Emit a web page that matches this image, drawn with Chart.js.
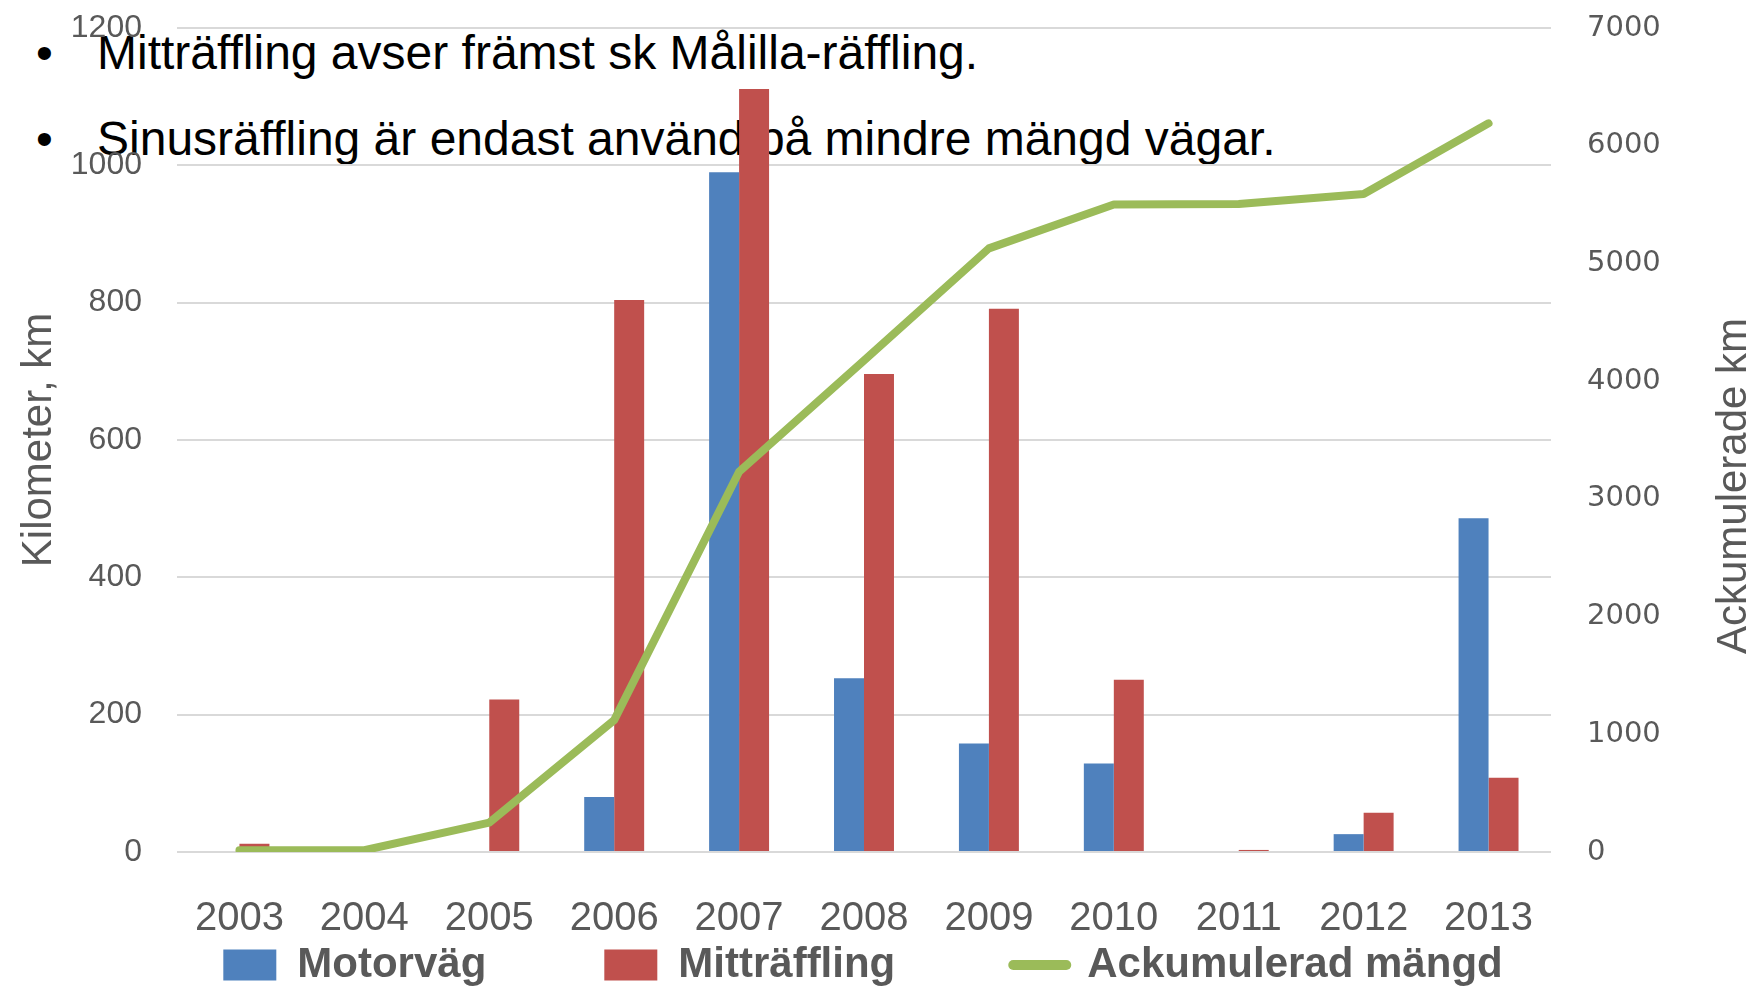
<!DOCTYPE html>
<html>
<head>
<meta charset="utf-8">
<script src="https://cdn.jsdelivr.net/npm/chart.js@4/dist/chart.umd.min.js"></script>
<style>
  body { margin: 0; background: #fff; }
  #wrap { position: relative; width: 1756px; height: 988px; }
  .note { position: absolute; font-family: "Liberation Sans", Arial, sans-serif; font-size: 48px; line-height: 48px; color: #000; white-space: nowrap; }
  canvas { position: absolute; left: 0; top: 0; }
</style>
</head>
<body>
<div id="wrap">
  <div class="note" style="left:36px;top:29px">•</div>
  <div class="note" style="left:97px;top:29px">Mitträffling avser främst sk Målilla-räffling.</div>
  <div class="note" style="left:36px;top:115px">•</div>
  <div class="note" style="left:97px;top:115px">Sinusräffling är endast använd på mindre mängd vägar.</div>
  <canvas id="chart" width="1756" height="988"></canvas>
</div>
<script>
// data
const years = ['2003', '2004', '2005', '2006', '2007', '2008', '2009', '2010', '2011', '2012', '2013'];
const motorvag = [0, 0, 0, 80, 990, 253, 158, 129, 0, 26, 486];
const mittraffling = [12, 0, 222, 804, 1111, 696, 791, 251, 3, 57, 108];
const ackumulerad = [15, 15, 250, 1120, 3230, 4175, 5128, 5500, 5505, 5590, 6190];

const leftTitle = 'Kilometer, km';
const rightTitle = 'Ackumulerade km';

const grey = '#595959';

// Chart.js puts a right-axis title top-to-bottom, the picture has it bottom-to-top
const rightTitlePlugin = {
  id: 'rightTitle',
  afterDraw(chart) {
    const ctx = chart.ctx;
    const s = chart.scales.y2;
    ctx.save();
    ctx.translate(s.right - 22, 486);
    ctx.rotate(-Math.PI / 2);
    ctx.font = '42px "Liberation Sans"';
    ctx.fillStyle = grey;
    ctx.textAlign = 'center';
    ctx.textBaseline = 'middle';
    ctx.fillText(rightTitle, 0, 0);
    ctx.restore();
  }
};

// wide gaps between legend items, but keep the legend low
const legendPlace = {
  id: 'legendPlace',
  afterLayout(chart) {
    const lg = chart.legend;
    const pad = lg.options.labels.padding;
    lg.top = 944 - pad;
    lg.left -= 15;
    lg.right -= 15;
  }
};

const plain = v => String(v);

// fixed axis width, and no extra room above/below for the tick labels
const fixWidth = w => scale => {
  scale.width = w;
  scale.paddingTop = 0;
  scale.paddingBottom = 0;
};

new Chart(document.getElementById('chart'), {
  type: 'bar',
  data: {
    labels: years,
    datasets: [
      {
        label: 'Motorväg',
        data: motorvag,
        backgroundColor: '#4F81BD',
        borderWidth: 0,
        yAxisID: 'y',
        order: 1
      },
      {
        label: 'Mitträffling',
        data: mittraffling,
        backgroundColor: '#C0504D',
        borderWidth: 0,
        yAxisID: 'y',
        order: 1
      },
      {
        type: 'line',
        label: 'Ackumulerad mängd',
        data: ackumulerad,
        borderColor: '#9BBB59',
        backgroundColor: '#9BBB59',
        borderWidth: 8,
        borderJoinStyle: 'round',
        borderCapStyle: 'round',
        pointRadius: 0,
        tension: 0,
        yAxisID: 'y2',
        order: 0
      }
    ]
  },
  options: {
    responsive: false,
    animation: false,
    devicePixelRatio: 1,
    layout: { padding: { top: 28, left: 0, right: 0, bottom: 0 } },
    datasets: {
      bar: { categoryPercentage: 0.48, barPercentage: 1 }
    },
    plugins: {
      tooltip: { enabled: false },
      legend: {
        position: 'bottom',
        maxHeight: 56,
        labels: {
          padding: 118,
          usePointStyle: true,
          pointStyleWidth: 53,
          boxHeight: 31,
          color: grey,
          font: { family: '"Liberation Sans"', size: 42, weight: 'bold' },
          sort: (a, b) => a.datasetIndex - b.datasetIndex,
          generateLabels(chart) {
            const items = Chart.defaults.plugins.legend.labels.generateLabels(chart);
            items.forEach(it => {
              if (chart.data.datasets[it.datasetIndex].type === 'line') {
                it.pointStyle = 'line';
                it.lineWidth = 10;
                it.lineCap = 'round';
              } else {
                it.pointStyle = 'rect';
                it.lineWidth = 0;
              }
            });
            return items;
          }
        }
      }
    },
    scales: {
      x: {
        grid: { display: false },
        border: { display: false },
        ticks: {
          color: grey,
          padding: 35,
          font: { family: '"Liberation Sans"', size: 40 }
        },
        afterFit(scale) { scale.height = 80; }
      },
      y: {
        position: 'left',
        min: 0,
        max: 1200,
        grid: { color: '#D9D9D9', lineWidth: 2, drawTicks: false },
        border: { display: false },
        ticks: {
          stepSize: 200,
          callback: plain,
          color: grey,
          padding: 35,
          font: { family: '"Liberation Sans"', size: 32 }
        },
        title: {
          display: true,
          text: leftTitle,
          color: grey,
          padding: { top: 14, bottom: 0 },
          font: { family: '"Liberation Sans"', size: 42 }
        },
        afterFit: fixWidth(177)
      },
      y2: {
        position: 'right',
        min: 0,
        max: 7000,
        grid: { display: false, drawTicks: false },
        border: { display: false },
        ticks: {
          stepSize: 1000,
          callback: plain,
          color: grey,
          padding: 36,
          font: { family: '"DejaVu Sans"', size: 29 }
        },
        afterFit: fixWidth(205)
      }
    }
  },
  plugins: [rightTitlePlugin, legendPlace]
});
</script>
</body>
</html>
